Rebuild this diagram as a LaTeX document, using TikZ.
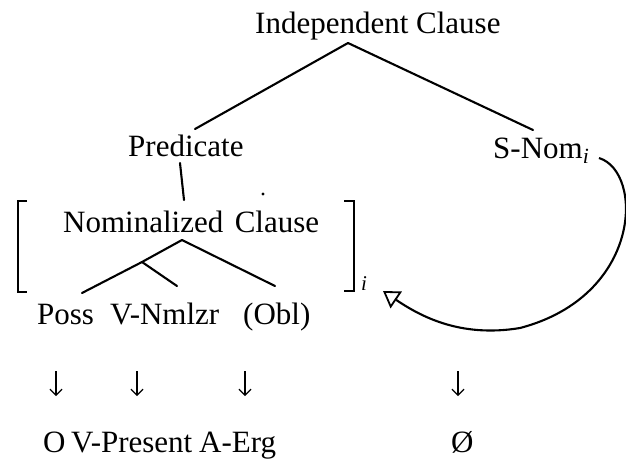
\documentclass[tikz,border=0pt]{standalone}
\usepackage{fontspec}
\setmainfont{Liberation Serif}
\usetikzlibrary{arrows.meta}
\begin{document}
\begin{tikzpicture}[x=1pt,y=-1pt,
  lbl/.style={anchor=base west,inner sep=0pt,font=\fontsize{31}{36}\selectfont},
  branch/.style={line width=2.1pt,line cap=round,line join=round},
  brk/.style={line width=2pt},
  down/.style={line width=1.2pt,-{Straight Barb[length=6pt,width=12pt,line width=1.2pt]}},
  loop/.style={line width=2.1pt,-{Triangle[open,length=16pt,width=20pt,line width=1.8pt]}}]
\useasboundingbox (0,0) rectangle (626,474);
% nodes
\node[lbl] (ic) at (255,33) {Independent Clause};
\node[lbl] (pred) at (128,156) {Predicate};
\node[lbl] (snom) at (493,158) {S-Nom\textsubscript{\textit{i}}};
\node[lbl] (nc) at (63,232) {Nominalized\hspace{0.12em} Clause};
\node[lbl] (poss) at (37,324) {Poss};
\node[lbl] (vn) at (110,324) {V-Nmlzr};
\node[lbl] (obl) at (243,324) {(Obl)};
\node[lbl,font=\fontsize{21}{24}\selectfont\itshape] (sub) at (361,290) {i};
\node[lbl] (o) at (43,452) {O};
\node[lbl] (vp) at (71,452) {V-Present};
\node[lbl] (aerg) at (199,452) {A-Erg};
\node[lbl] (zero) at (451,452) {Ø};
% mapping arrows
\coordinate (d1t) at (56,371); \coordinate (d1b) at (56,396);
\coordinate (d2t) at (137,371); \coordinate (d2b) at (137,396);
\coordinate (d3t) at (245,371); \coordinate (d3b) at (245,396);
\coordinate (d4t) at (458,371); \coordinate (d4b) at (458,396);
\draw[down] (d1t) -- (d1b);
\draw[down] (d2t) -- (d2b);
\draw[down] (d3t) -- (d3b);
\draw[down] (d4t) -- (d4b);
% tree connectors
\coordinate (icb) at (348,43);
\coordinate (predt) at (195,129);
\coordinate (snomt) at (533,130);
\coordinate (predb) at (180,163);
\coordinate (nct) at (184,200);
\coordinate (ncb) at (182,240);
\coordinate (mid) at (142,262);
\coordinate (posst) at (82,293);
\coordinate (vnt) at (177,286);
\coordinate (oblt) at (275,286);
\draw[branch] (icb) -- (predt);
\draw[branch] (icb) -- (snomt);
\draw[branch] (predb) -- (nct);
\draw[branch] (ncb) -- (mid) -- (posst);
\draw[branch] (mid) -- (vnt);
\draw[branch] (ncb) -- (oblt);
\fill (263,194) circle (1.6);
% brackets
\draw[brk] (27,201) -- (18,201) -- (18,292) -- (27,292);
\draw[brk] (344,201) -- (354,201) -- (354,291) -- (344,291);
% looping arrow
\coordinate (loopstart) at (599,158);
\coordinate (loopend) at (383,291);
\draw[loop] (loopstart) .. controls (644,172) and (642,296) .. (520,328)
  .. controls (460,338) and (420,316) .. (loopend);
\end{tikzpicture}
\end{document}
